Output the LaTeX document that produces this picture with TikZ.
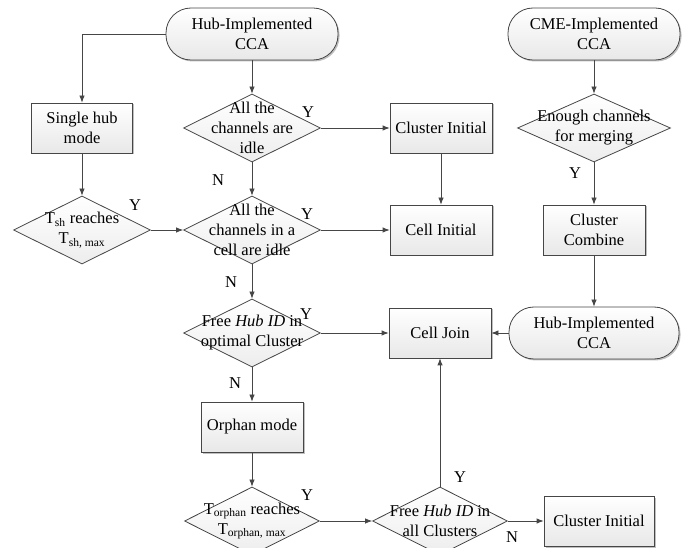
\documentclass[tikz,border=0pt]{standalone}
\usepackage{fontspec}
\setmainfont{Liberation Serif}
\usetikzlibrary{shapes.geometric,shadows,arrows.meta}

\begin{document}
\begin{tikzpicture}[x=1pt, y=-1pt,
  font=\fontsize{16.5}{20}\selectfont,
  box/.style={draw=darkline, line width=0.8pt, top color=white, bottom color=gray!18,
    drop shadow={shadow xshift=1.5pt, shadow yshift=-1.5pt, fill=gray!50, opacity=1},
    minimum width=102pt, minimum height=50pt, align=center, inner sep=2pt},
  terminal/.style={box, rounded corners=25pt, minimum width=172pt, minimum height=52pt},
  decision/.style={diamond, draw=darkline, line width=0.8pt, top color=white, bottom color=gray!14,
    minimum width=137pt, minimum height=68pt, inner sep=0pt},
  dtext/.style={align=center, inner sep=0pt},
  flow/.style={draw=darkline, line width=0.8pt, ->, >={Latex[length=7pt, width=5.5pt]}},
  lbl/.style={inner sep=0pt}]

\definecolor{darkline}{RGB}{70,70,70}
\useasboundingbox (0,0) rectangle (697,548);

\node[terminal] (t1) at (252,34) {Hub-Implemented\\CCA};
\node[terminal] (t2) at (594,34) {CME-Implemented\\CCA};

\node[box, minimum width=101pt] (b1) at (82,128) {Single hub\\mode};
\node[decision] (d0) at (82,230) {};
\node[dtext] (d0t) at (d0) {T\textsubscript{sh} reaches\\T\textsubscript{sh, max}};

\node[decision] (d1) at (252,128) {};
\node[dtext] (d1t) at (d1) {All the\\channels are\\idle};
\node[decision] (d2) at (252,230) {};
\node[dtext] (d2t) at (d2) {All the\\channels in a\\cell are idle};
\node[decision] (d3) at (252,333) {};
\node[dtext] (d3t) at (d3) {Free \textit{Hub ID} in\\optimal Cluster};
\node[box] (bo) at (252,427) {Orphan mode};
\node[decision, minimum width=135pt] (d4) at (252,521) {};
\node[dtext] (d4t) at (d4) {T\textsubscript{orphan} reaches\\T\textsubscript{orphan, max}};

\node[box] (c1) at (441,128) {Cluster Initial};
\node[box] (c2) at (441,230) {Cell Initial};
\node[box] (cj) at (440,333) {Cell Join};
\node[decision, minimum width=135pt] (d5) at (440,521) {};
\node[dtext] (d5t) at (d5) {Free \textit{Hub ID} in\\all Clusters};
\node[box, minimum width=110pt] (c3) at (599,521) {Cluster Initial};

\node[decision, minimum width=153pt] (d6) at (594,128) {};
\node[dtext] (d6t) at (d6) {Enough channels\\for merging};
\node[box] (b2) at (594,230) {Cluster\\Combine};
\node[terminal, minimum width=170pt] (t3) at (594,333) {Hub-Implemented\\CCA};

\draw[flow] (t1) -- (d1);
\draw[flow] (t1.west) -| (b1);
\draw[flow] (b1) -- (d0);
\draw[flow] (d0) -- (d2);
\draw[flow] (d1) -- (d2);
\draw[flow] (d1) -- (c1);
\draw[flow] (c1) -- (c2);
\draw[flow] (d2) -- (c2);
\draw[flow] (d2) -- (d3);
\draw[flow] (d3) -- (cj);
\draw[flow] (d3) -- (bo);
\draw[flow] (bo) -- (d4);
\draw[flow] (d4) -- (d5);
\draw[flow] (d5) -- (cj);
\draw[flow] (d5) -- (c3);
\draw[flow] (t2) -- (d6);
\draw[flow] (d6) -- (b2);
\draw[flow] (b2) -- (t3);
\draw[flow] (t3) -- (cj);

\node[lbl] (y0) at (135,205) {Y};
\node[lbl] (n1) at (218,180) {N};
\node[lbl] (y1) at (308,112) {Y};
\node[lbl] (y2) at (307,214) {Y};
\node[lbl] (n2) at (231,282) {N};
\node[lbl] (y3) at (306,314) {Y};
\node[lbl] (n3) at (235,383) {N};
\node[lbl] (y4) at (307,495) {Y};
\node[lbl] (y5) at (460,477) {Y};
\node[lbl] (n5) at (512,537) {N};
\node[lbl] (y6) at (575,173) {Y};

\end{tikzpicture}
\end{document}
